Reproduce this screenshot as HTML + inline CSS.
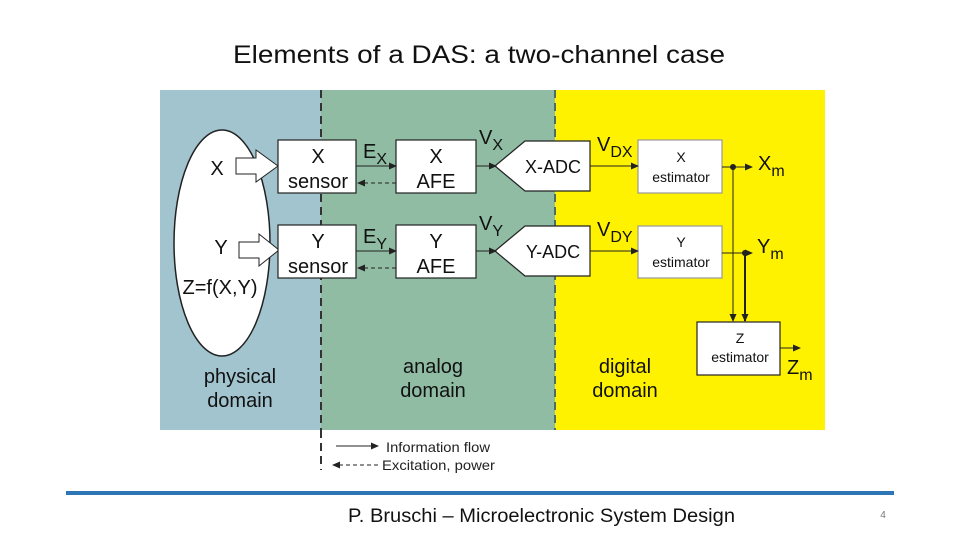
<!DOCTYPE html>
<html><head><style>
body{margin:0;width:960px;height:540px;background:#fff;overflow:hidden;font-family:"Liberation Sans",sans-serif;}
</style></head><body>
<svg width="960" height="540" xmlns="http://www.w3.org/2000/svg" font-family="Liberation Sans, sans-serif">
<defs>
<marker id="a" markerWidth="8" markerHeight="8" refX="7" refY="4" orient="auto" markerUnits="userSpaceOnUse"><path d="M0,0.5 L8,4 L0,7.5z" fill="#222"/></marker>
</defs>
<text x="233" y="63" font-size="25" textLength="492" lengthAdjust="spacingAndGlyphs" fill="#111">Elements of a DAS: a two-channel case</text>
<rect x="160" y="90" width="161" height="340" fill="#a1c4cf"/>
<rect x="321" y="90" width="234" height="340" fill="#8fbca3"/>
<rect x="555" y="90" width="270" height="340" fill="#fff200"/>
<line x1="321" y1="90" x2="321" y2="430" stroke="#333" stroke-width="2" stroke-dasharray="8,5"/>
<line x1="555" y1="90" x2="555" y2="430" stroke="#4f6e60" stroke-width="2" stroke-dasharray="8,5"/>
<line x1="321" y1="430" x2="321" y2="470" stroke="#333" stroke-width="2" stroke-dasharray="8,5"/>
<ellipse cx="222" cy="243" rx="48" ry="113" fill="#fff" stroke="#222" stroke-width="1.5"/>
<g font-size="20" fill="#111" text-anchor="middle">
<text x="217" y="175">X</text><text x="221" y="254">Y</text><text x="220" y="294">Z=f(X,Y)</text>
<text x="240" y="383">physical</text><text x="240" y="407">domain</text>
<text x="433" y="373">analog</text><text x="433" y="397">domain</text>
<text x="625" y="373">digital</text><text x="625" y="397">domain</text>
</g>
<path d="M236,158 h20 v-8 l22,16 l-22,16 v-8 h-20z" fill="#fff" stroke="#222"/>
<path d="M239,242 h20 v-8 l20,16 l-20,16 v-8 h-20z" fill="#fff" stroke="#222"/>
<g fill="#fff" stroke="#222" stroke-width="1.2">
<rect x="278" y="140" width="78" height="53"/><rect x="396" y="140" width="80" height="53"/>
<rect x="278" y="225" width="78" height="53"/><rect x="396" y="225" width="80" height="53"/>
<path d="M495,166 L525,141 H590 V191 H525z"/><path d="M495,251 L525,226 H590 V276 H525z"/>
<rect x="638" y="140" width="84" height="53" stroke="#999"/><rect x="638" y="226" width="84" height="52" stroke="#999"/>
<rect x="697" y="322" width="83" height="53"/>
</g>
<g font-size="20" fill="#111" text-anchor="middle">
<text x="318" y="163">X</text><text x="318" y="188">sensor</text>
<text x="436" y="163">X</text><text x="436" y="188">AFE</text>
<text x="318" y="248">Y</text><text x="318" y="273">sensor</text>
<text x="436" y="248">Y</text><text x="436" y="273">AFE</text>
<text x="553" y="173" font-size="18">X-ADC</text><text x="553" y="258" font-size="18">Y-ADC</text>
</g>
<g font-size="14" fill="#111" text-anchor="middle">
<text x="681" y="162">X</text><text x="681" y="182">estimator</text>
<text x="681" y="247">Y</text><text x="681" y="267">estimator</text>
<text x="740" y="343">Z</text><text x="740" y="362">estimator</text>
</g>
<g font-size="20" fill="#111">
<text x="363" y="158">E<tspan font-size="16" dy="6">X</tspan></text>
<text x="363" y="243">E<tspan font-size="16" dy="6">Y</tspan></text>
<text x="479" y="144">V<tspan font-size="16" dy="6">X</tspan></text>
<text x="479" y="230">V<tspan font-size="16" dy="6">Y</tspan></text>
<text x="597" y="151">V<tspan font-size="16" dy="6">DX</tspan></text>
<text x="597" y="236">V<tspan font-size="16" dy="6">DY</tspan></text>
<text x="758" y="170">X<tspan font-size="16" dy="6">m</tspan></text>
<text x="757" y="253">Y<tspan font-size="16" dy="6">m</tspan></text>
<text x="787" y="374">Z<tspan font-size="16" dy="6">m</tspan></text>
</g>
<g stroke="#222" stroke-width="1" fill="none">
<line x1="356" y1="166" x2="396" y2="166" marker-end="url(#a)"/>
<line x1="396" y1="183" x2="358" y2="183" stroke-dasharray="4,3" marker-end="url(#a)"/>
<line x1="356" y1="251" x2="396" y2="251" marker-end="url(#a)"/>
<line x1="396" y1="268" x2="358" y2="268" stroke-dasharray="4,3" marker-end="url(#a)"/>
<line x1="476" y1="166" x2="496" y2="166" marker-end="url(#a)"/>
<line x1="476" y1="251" x2="496" y2="251" marker-end="url(#a)"/>
<line x1="590" y1="166" x2="638" y2="166" marker-end="url(#a)"/>
<line x1="590" y1="251" x2="638" y2="251" marker-end="url(#a)"/>
<line x1="722" y1="167" x2="752" y2="167" marker-end="url(#a)"/>
<line x1="722" y1="253" x2="752" y2="253" marker-end="url(#a)"/>
<line x1="733" y1="167" x2="733" y2="321" marker-end="url(#a)"/>
<line x1="745" y1="253" x2="745" y2="321" stroke-width="2" marker-end="url(#a)"/>
<line x1="780" y1="348" x2="800" y2="348" marker-end="url(#a)"/>
<line x1="336" y1="446" x2="378" y2="446" marker-end="url(#a)"/>
<line x1="378" y1="465" x2="333" y2="465" stroke-dasharray="4,3" marker-end="url(#a)"/>
</g>
<circle cx="733" cy="167" r="3" fill="#222"/><circle cx="745" cy="253" r="3" fill="#222"/>
<text x="386" y="452" font-size="14" textLength="104" lengthAdjust="spacingAndGlyphs" fill="#222">Information flow</text>
<text x="382" y="470" font-size="14" textLength="113" lengthAdjust="spacingAndGlyphs" fill="#222">Excitation, power</text>
<rect x="66" y="491" width="828" height="4" fill="#2e75b6"/>
<text x="348" y="522" font-size="19" textLength="387" lengthAdjust="spacingAndGlyphs" fill="#111">P. Bruschi – Microelectronic System Design</text>
<text x="883" y="518" font-size="10" text-anchor="middle" fill="#777">4</text>
</svg>
</body></html>
